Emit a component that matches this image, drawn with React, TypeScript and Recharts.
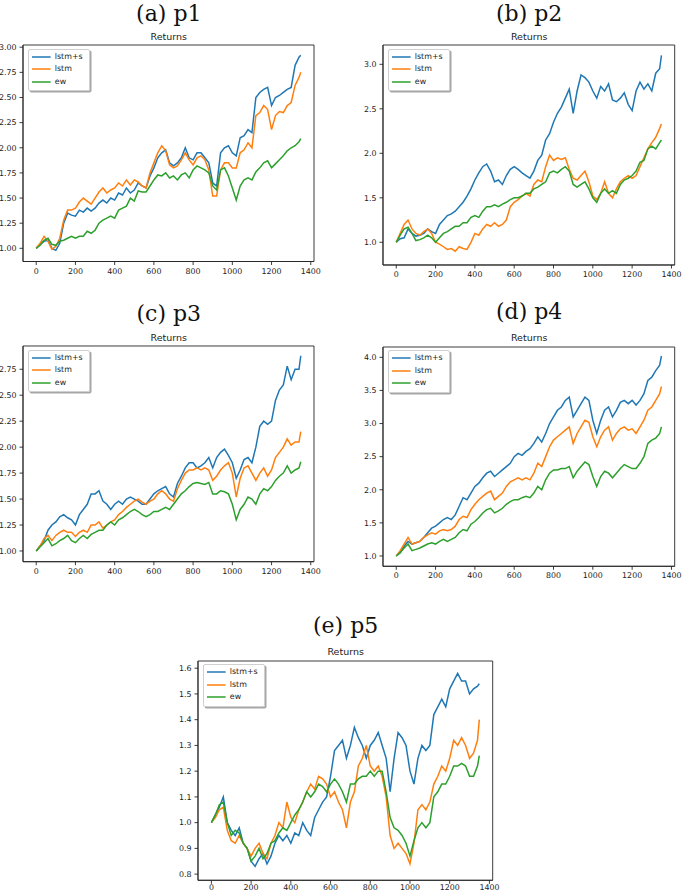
import React from 'react';
import { LineChart, Line, XAxis, YAxis, ReferenceArea } from 'recharts';

// time steps (x values)
const steps = [0,20,40,60,80,100,120,140,160,180,200,220,240,260,280,300,320,340,360,380,400,420,440,460,480,500,520,540,560,580,600,620,640,660,680,700,720,740,760,780,800,820,840,860,880,900,920,940,960,980,1000,1020,1040,1060,1080,1100,1120,1140,1160,1180,1200,1220,1240,1260,1280,1300,1320,1340,1349];

const seriesNames = ['lstm+s', 'lstm', 'ew'];
const xTicks = [0, 200, 400, 600, 800, 1000, 1200, 1400];

// (a) p1
const p1LstmS = [1.00,1.04,1.07,1.08,1.00,0.98,1.05,1.25,1.35,1.33,1.32,1.38,1.36,1.40,1.37,1.40,1.45,1.48,1.45,1.50,1.48,1.55,1.53,1.60,1.55,1.58,1.65,1.62,1.60,1.72,1.80,1.90,1.95,1.98,1.85,1.82,1.85,1.90,2.00,1.90,1.88,1.95,1.95,1.90,1.85,1.65,1.62,1.95,2.00,2.02,1.95,1.92,2.10,2.12,2.18,2.15,2.50,2.55,2.58,2.60,2.42,2.50,2.52,2.55,2.58,2.60,2.82,2.90,2.92];
const p1Lstm = [1.00,1.05,1.12,1.07,0.99,1.02,1.10,1.28,1.38,1.38,1.40,1.46,1.50,1.47,1.44,1.50,1.56,1.60,1.55,1.58,1.60,1.65,1.62,1.68,1.63,1.68,1.66,1.62,1.60,1.75,1.85,1.95,2.02,1.97,1.83,1.80,1.82,1.88,1.95,1.88,1.83,1.90,1.92,1.88,1.78,1.52,1.52,1.78,1.85,1.85,1.80,1.80,1.95,1.98,2.05,2.00,2.32,2.35,2.42,2.38,2.18,2.32,2.36,2.35,2.42,2.45,2.62,2.70,2.75];
const p1Ew = [1.00,1.03,1.08,1.10,1.04,1.03,1.07,1.08,1.10,1.12,1.10,1.12,1.12,1.17,1.15,1.18,1.25,1.28,1.30,1.32,1.30,1.38,1.40,1.42,1.50,1.47,1.57,1.56,1.56,1.62,1.68,1.73,1.72,1.75,1.70,1.72,1.68,1.73,1.75,1.70,1.78,1.82,1.80,1.78,1.75,1.62,1.58,1.78,1.80,1.72,1.60,1.48,1.62,1.68,1.70,1.68,1.76,1.80,1.85,1.87,1.80,1.84,1.88,1.92,1.97,2.00,2.02,2.06,2.09];
const p1Ticks = [1.0, 1.25, 1.5, 1.75, 2.0, 2.25, 2.5, 2.75, 3.0];

// (b) p2
const p2LstmS = [1.00,1.04,1.05,1.15,1.10,1.07,1.08,1.10,1.15,1.12,1.10,1.20,1.25,1.30,1.32,1.35,1.40,1.45,1.52,1.60,1.70,1.78,1.85,1.88,1.80,1.68,1.70,1.65,1.75,1.82,1.85,1.82,1.78,1.75,1.72,1.80,1.92,1.98,2.15,2.22,2.35,2.45,2.52,2.62,2.72,2.45,2.70,2.88,2.85,2.80,2.70,2.62,2.75,2.70,2.78,2.60,2.58,2.62,2.68,2.55,2.48,2.70,2.80,2.72,2.78,2.70,2.90,2.95,3.10];
const p2Lstm = [1.00,1.10,1.20,1.25,1.15,1.10,1.08,1.12,1.15,1.10,1.00,0.98,0.95,0.92,0.93,0.90,0.95,0.93,0.92,1.00,1.10,1.08,1.15,1.20,1.18,1.22,1.18,1.20,1.25,1.40,1.45,1.48,1.52,1.55,1.52,1.65,1.70,1.68,1.85,1.98,1.92,1.95,1.93,1.95,1.82,1.72,1.70,1.75,1.80,1.68,1.52,1.48,1.55,1.68,1.55,1.50,1.60,1.68,1.72,1.75,1.72,1.75,1.85,1.95,2.05,2.12,2.18,2.28,2.33];
const p2Ew = [1.00,1.08,1.15,1.17,1.10,1.02,1.03,1.05,1.08,1.05,1.00,1.05,1.10,1.12,1.15,1.18,1.18,1.22,1.22,1.28,1.30,1.28,1.35,1.40,1.40,1.42,1.40,1.43,1.45,1.48,1.50,1.50,1.52,1.55,1.55,1.60,1.62,1.65,1.68,1.78,1.80,1.78,1.82,1.85,1.80,1.65,1.62,1.65,1.68,1.60,1.50,1.45,1.55,1.60,1.55,1.58,1.55,1.65,1.70,1.72,1.75,1.80,1.90,1.92,2.05,2.08,2.05,2.12,2.15];
const p2Ticks = [1.0, 1.5, 2.0, 2.5, 3.0];

// (c) p3
const p3LstmS = [1.00,1.05,1.10,1.20,1.25,1.28,1.33,1.35,1.32,1.30,1.25,1.35,1.40,1.45,1.55,1.55,1.58,1.48,1.45,1.40,1.45,1.48,1.45,1.50,1.52,1.50,1.48,1.45,1.45,1.50,1.55,1.58,1.60,1.62,1.55,1.52,1.65,1.72,1.80,1.85,1.85,1.80,1.82,1.85,1.90,1.80,1.90,1.95,1.98,1.92,1.85,1.70,1.78,1.88,1.90,1.85,2.00,2.20,2.25,2.22,2.25,2.45,2.55,2.60,2.78,2.65,2.75,2.75,2.88];
const p3Lstm = [1.00,1.05,1.12,1.15,1.10,1.15,1.18,1.20,1.18,1.18,1.14,1.18,1.20,1.18,1.25,1.25,1.28,1.22,1.25,1.28,1.30,1.35,1.38,1.42,1.45,1.48,1.50,1.47,1.45,1.48,1.50,1.55,1.58,1.55,1.50,1.48,1.60,1.68,1.75,1.78,1.78,1.80,1.78,1.80,1.78,1.68,1.72,1.78,1.82,1.85,1.75,1.52,1.70,1.80,1.82,1.75,1.68,1.75,1.80,1.72,1.78,1.90,1.95,2.00,2.08,2.02,2.05,2.05,2.15];
const p3Ew = [1.00,1.04,1.08,1.12,1.05,1.07,1.10,1.12,1.15,1.10,1.08,1.12,1.15,1.12,1.16,1.18,1.20,1.20,1.25,1.28,1.25,1.30,1.32,1.35,1.38,1.40,1.38,1.35,1.33,1.35,1.38,1.38,1.40,1.42,1.40,1.45,1.50,1.55,1.58,1.62,1.65,1.66,1.65,1.64,1.66,1.55,1.55,1.58,1.57,1.55,1.45,1.30,1.40,1.45,1.52,1.50,1.45,1.55,1.60,1.58,1.62,1.68,1.72,1.75,1.82,1.75,1.78,1.80,1.86];
const p3Ticks = [1.0, 1.25, 1.5, 1.75, 2.0, 2.25, 2.5, 2.75];

// (d) p4
const p4LstmS = [1.00,1.05,1.15,1.22,1.18,1.20,1.22,1.28,1.35,1.42,1.45,1.50,1.55,1.58,1.55,1.62,1.75,1.88,1.85,1.95,2.05,2.10,2.18,2.25,2.28,2.20,2.25,2.30,2.35,2.40,2.50,2.55,2.52,2.58,2.62,2.70,2.80,2.72,2.85,3.00,3.10,3.20,3.25,3.35,3.40,3.10,3.20,3.30,3.40,3.35,3.05,2.85,3.05,3.20,3.25,3.10,3.20,3.32,3.35,3.30,3.35,3.28,3.35,3.45,3.65,3.70,3.80,3.88,4.02];
const p4Lstm = [1.00,1.08,1.18,1.28,1.18,1.20,1.22,1.28,1.32,1.35,1.33,1.38,1.40,1.38,1.40,1.45,1.55,1.60,1.58,1.70,1.78,1.85,1.90,1.95,1.98,1.85,1.90,1.95,2.05,2.12,2.15,2.18,2.15,2.18,2.15,2.25,2.40,2.35,2.50,2.65,2.75,2.80,2.85,2.90,2.95,2.70,2.85,2.95,3.05,3.02,2.80,2.65,2.80,2.90,2.95,2.75,2.85,2.92,2.95,2.90,2.92,2.85,2.95,3.05,3.20,3.25,3.35,3.45,3.56];
const p4Ew = [1.00,1.05,1.12,1.18,1.08,1.10,1.12,1.15,1.18,1.20,1.18,1.22,1.25,1.22,1.25,1.28,1.35,1.40,1.38,1.48,1.52,1.58,1.65,1.70,1.72,1.65,1.68,1.72,1.78,1.82,1.85,1.85,1.88,1.90,1.88,1.95,2.05,2.00,2.15,2.25,2.30,2.30,2.32,2.32,2.35,2.18,2.28,2.35,2.42,2.38,2.20,2.05,2.20,2.28,2.25,2.18,2.25,2.32,2.38,2.35,2.32,2.32,2.40,2.50,2.70,2.75,2.78,2.85,2.95];
const p4Ticks = [1.0, 1.5, 2.0, 2.5, 3.0, 3.5, 4.0];

// (e) p5
const p5LstmS = [1.00,1.03,1.06,1.10,1.00,0.97,0.95,0.98,0.92,0.90,0.85,0.83,0.86,0.88,0.84,0.87,0.92,0.95,0.93,0.95,0.92,0.96,0.95,1.00,0.97,0.95,1.02,1.05,1.08,1.10,1.18,1.28,1.30,1.32,1.25,1.30,1.37,1.33,1.30,1.25,1.30,1.32,1.35,1.30,1.25,1.12,1.25,1.35,1.33,1.30,1.20,1.15,1.25,1.30,1.28,1.30,1.42,1.45,1.48,1.45,1.52,1.55,1.58,1.55,1.55,1.50,1.52,1.53,1.54];
const p5Lstm = [1.00,1.02,1.05,1.06,0.97,0.93,0.92,0.95,0.92,0.90,0.87,0.90,0.92,0.88,0.86,0.92,0.95,1.00,0.98,1.08,1.02,1.00,1.05,1.08,1.12,1.15,1.13,1.18,1.17,1.15,1.10,1.12,1.08,1.05,0.98,1.08,1.12,1.22,1.25,1.30,1.22,1.20,1.22,1.18,1.10,0.95,0.90,0.92,0.90,0.88,0.84,0.92,1.05,1.07,1.05,1.08,1.15,1.18,1.22,1.20,1.25,1.32,1.30,1.33,1.30,1.25,1.27,1.32,1.40];
const p5Ew = [1.00,1.03,1.07,1.08,1.00,0.95,0.97,0.96,0.92,0.90,0.85,0.87,0.90,0.86,0.88,0.92,0.93,0.96,0.98,0.97,1.00,1.03,1.05,1.08,1.12,1.10,1.12,1.15,1.14,1.12,1.15,1.17,1.15,1.12,1.08,1.15,1.15,1.17,1.18,1.18,1.20,1.18,1.20,1.20,1.12,1.02,0.98,0.97,0.95,0.92,0.87,0.93,0.98,1.00,0.98,1.00,1.10,1.12,1.15,1.15,1.18,1.22,1.22,1.23,1.22,1.18,1.18,1.22,1.26];
const p5Ticks = [0.8, 0.9, 1.0, 1.1, 1.2, 1.3, 1.4, 1.5, 1.6];

const COLORS = ['#1f77b4', '#ff7f0e', '#2ca02c'];
const AX = '#262626';
const SANS = '"DejaVu Sans", sans-serif';
const X_DOMAIN: [number, number] = [-67.45, 1416.45];

type Panel = {
  title: string;
  s: number[]; l: number[]; e: number[];
  ticks: number[]; dec: number;
  yDomain: [number, number];
  left: number; top: number; w: number; h: number;
  titleY: number; xGap: number;
};

const panels: Panel[] = [
  { title: '(a) p1', s: p1LstmS, l: p1Lstm, e: p1Ew, ticks: p1Ticks, dec: 2, yDomain: [0.869, 3.022], left: 23.3, top: 45, w: 291, h: 216.5, titleY: 14.5, xGap: 3 },
  { title: '(b) p2', s: p2LstmS, l: p2Lstm, e: p2Ew, ticks: p2Ticks, dec: 1, yDomain: [0.745, 3.217], left: 383.3, top: 45, w: 291.7, h: 220, titleY: 14.7, xGap: 3 },
  { title: '(c) p3', s: p3LstmS, l: p3Lstm, e: p3Ew, ticks: p3Ticks, dec: 2, yDomain: [0.897, 2.974], left: 23.3, top: 346, w: 291, h: 215.7, titleY: 314.5, xGap: 3 },
  { title: '(d) p4', s: p4LstmS, l: p4Lstm, e: p4Ew, ticks: p4Ticks, dec: 1, yDomain: [0.844, 4.156], left: 383.3, top: 346.7, w: 291.7, h: 219.3, titleY: 312.5, xGap: 3 },
  { title: '(e) p5', s: p5LstmS, l: p5Lstm, e: p5Ew, ticks: p5Ticks, dec: 1, yDomain: [0.776, 1.628], left: 198.3, top: 660.7, w: 294.7, h: 219.3, titleY: 627, xGap: 1 },
];

const YW = 40, MT = 4, MR = 16, XH = 22;

function LegendBox({ left, top }: { left: number; top: number }) {
  return (
    <div style={{
      position: 'absolute', left, top,
      border: '1px solid #d0d0d0', borderRadius: 2,
      background: 'rgba(255,255,255,0.85)',
      boxShadow: '1.5px 1.5px 0 rgba(0,0,0,0.35)',
      padding: '1px 6px 2px 3px',
    }}>
      {seriesNames.map((n, i) => (
        <div key={n} style={{ display: 'flex', alignItems: 'center', height: 12.5 }}>
          <svg width={19} height={4} style={{ marginRight: 4, display: 'block' }}>
            <line x1={0} y1={2} x2={18.6} y2={2} stroke={COLORS[i]} strokeWidth={1.5} />
          </svg>
          <span style={{ fontFamily: SANS, fontSize: 7.9, color: '#222', lineHeight: '12.5px', whiteSpace: 'nowrap' }}>{n}</span>
        </div>
      ))}
    </div>
  );
}

function PanelChart({ p }: { p: Panel }) {
  const data = steps.map((x, i) => ({ x, s: p.s[i], l: p.l[i], e: p.e[i] }));
  const cx = p.left + p.w / 2;
  const tickStyle = { fontSize: 7.9, fontFamily: SANS, fill: '#222' };
  return (
    <>
      <div style={{
        position: 'absolute', left: cx - 150, width: 300, top: p.titleY - 12,
        textAlign: 'center', fontFamily: '"DejaVu Serif", serif', fontSize: 22, lineHeight: '22px', color: '#111',
      }}>{p.title}</div>
      <div style={{
        position: 'absolute', left: cx - 100, width: 200, top: p.top - 13.3,
        textAlign: 'center', fontFamily: SANS, fontSize: 9.5, lineHeight: '9.5px', color: '#222',
      }}>Returns</div>
      <div style={{ position: 'absolute', left: p.left - YW, top: p.top - MT }}>
        <LineChart width={YW + p.w + MR} height={MT + p.h + XH} data={data}
          margin={{ top: MT, right: MR, left: 0, bottom: 0 }}>
          <XAxis dataKey="x" type="number" domain={X_DOMAIN} allowDataOverflow ticks={xTicks} interval={0}
            height={XH} tick={tickStyle} tickSize={3.5} tickMargin={p.xGap}
            axisLine={{ stroke: AX, strokeWidth: 0.9 }} tickLine={{ stroke: AX, strokeWidth: 0.9 }} />
          <YAxis type="number" domain={p.yDomain} allowDataOverflow ticks={p.ticks} interval={0}
            width={YW} tick={tickStyle} tickSize={3.5} tickMargin={3}
            tickFormatter={(v: number) => v.toFixed(p.dec)}
            axisLine={{ stroke: AX, strokeWidth: 0.9 }} tickLine={{ stroke: AX, strokeWidth: 0.9 }} />
          <ReferenceArea x1={X_DOMAIN[0]} x2={X_DOMAIN[1]} y1={p.yDomain[0]} y2={p.yDomain[1]}
            ifOverflow="visible" fill="none" fillOpacity={0} stroke={AX} strokeWidth={0.9} />
          <Line dataKey="s" name={seriesNames[0]} stroke={COLORS[0]} strokeWidth={1.5} dot={false} isAnimationActive={false} type="linear" />
          <Line dataKey="l" name={seriesNames[1]} stroke={COLORS[1]} strokeWidth={1.5} dot={false} isAnimationActive={false} type="linear" />
          <Line dataKey="e" name={seriesNames[2]} stroke={COLORS[2]} strokeWidth={1.5} dot={false} isAnimationActive={false} type="linear" />
        </LineChart>
      </div>
      <LegendBox left={p.left + 4.5} top={p.top + 3.5} />
    </>
  );
}

export default function App() {
  return (
    <div style={{ position: 'absolute', left: 0, top: 0, width: 685, height: 892, background: '#fff', overflow: 'hidden' }}>
      {panels.map((p) => <PanelChart key={p.title} p={p} />)}
    </div>
  );
}
